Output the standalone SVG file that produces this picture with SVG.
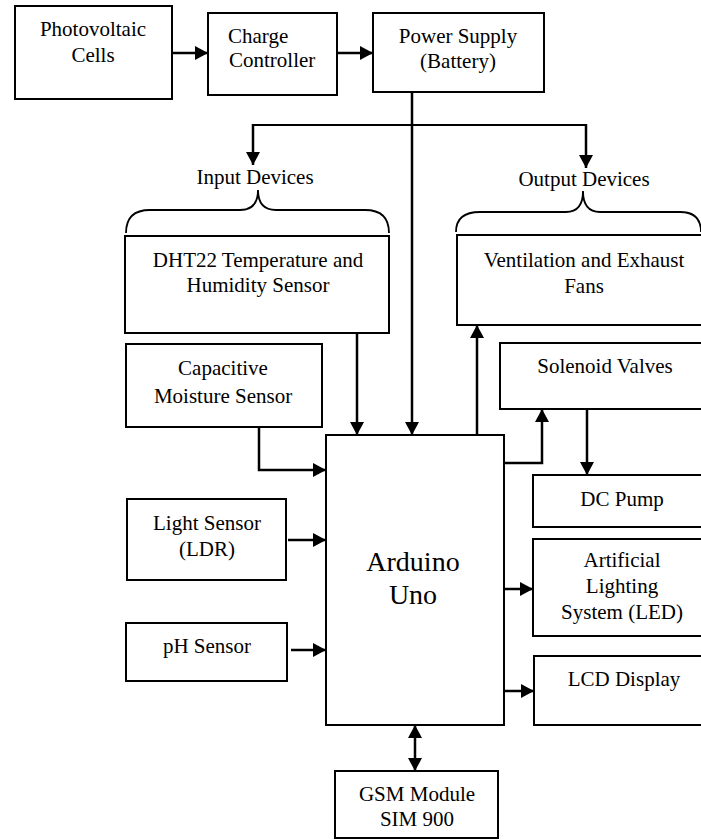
<svg xmlns="http://www.w3.org/2000/svg" width="701" height="840" viewBox="0 0 701 840" font-family="Liberation Serif, Times New Roman, serif">
<style>
.box{fill:#fff;stroke:#000;stroke-width:2}
text{font-family:'Liberation Serif','Times New Roman',Times,serif;font-size:21px;fill:#000;text-anchor:middle}
.big{font-size:28px}
.l{text-anchor:start}
.c{fill:none;stroke:#000;stroke-width:2.5}
.thin{fill:none;stroke:#000;stroke-width:1.8}
</style>
<defs>
<marker id="ah" markerWidth="14" markerHeight="14" refX="13" refY="7" orient="auto-start-reverse" markerUnits="userSpaceOnUse">
<path d="M0,0 L13,7 L0,14 z" fill="#000"/>
</marker>
</defs>
<rect width="701" height="840" fill="#fff"/>
<g id="connectors">
<line class="c" x1="172" y1="53" x2="208" y2="53" marker-end="url(#ah)"/>
<line class="c" x1="337" y1="53" x2="373" y2="53" marker-end="url(#ah)"/>
<line class="c" x1="412" y1="92" x2="412" y2="435" marker-end="url(#ah)"/>
<polyline class="thin" points="253,125 586,125"/>
<line class="c" x1="253" y1="124" x2="253" y2="165" marker-end="url(#ah)"/>
<line class="c" x1="586" y1="124" x2="586" y2="168" marker-end="url(#ah)"/>
<line class="c" x1="357" y1="333" x2="357" y2="435" marker-end="url(#ah)"/>
<polyline class="c" points="259,427 259,470 326,470" marker-end="url(#ah)"/>
<line class="c" x1="477" y1="435" x2="477" y2="325" marker-end="url(#ah)"/>
<polyline class="c" points="504,463 542,463 542,409" marker-end="url(#ah)"/>
<line class="c" x1="587" y1="409" x2="587" y2="475" marker-end="url(#ah)"/>
<line class="c" x1="288" y1="540" x2="326" y2="540" marker-end="url(#ah)"/>
<line class="c" x1="291" y1="650" x2="326" y2="650" marker-end="url(#ah)"/>
<line class="c" x1="504" y1="589" x2="533" y2="589" marker-end="url(#ah)"/>
<line class="c" x1="504" y1="691" x2="534" y2="691" marker-end="url(#ah)"/>
<line class="c" x1="415" y1="725" x2="415" y2="771" marker-start="url(#ah)" marker-end="url(#ah)"/>
<path class="thin" d="M126,233 Q126,210 150,210 L240,210 Q258,210 258,190 Q258,210 276,210 L365,210 Q389,210 389,233"/>
<path class="thin" d="M456,232 Q456,212 480,212 L566,212 Q583,212 583,191 Q583,212 600,212 L680,212 Q701,212 701,232"/>
</g>
<g id="photovoltaic"><rect class="box" x="15" y="6" width="157" height="93"/><text x="93" y="36">Photovoltaic</text><text x="93" y="62">Cells</text></g>
<g id="charge-controller"><rect class="box" x="208" y="13" width="129" height="82"/><text class="l" x="228" y="43">Charge</text><text class="l" x="229" y="67">Controller</text></g>
<g id="power-supply"><rect class="box" x="373" y="13" width="171" height="79"/><text x="458" y="43">Power Supply</text><text x="458" y="68">(Battery)</text></g>
<g id="input-devices"><text x="255" y="184">Input Devices</text></g>
<g id="output-devices"><text x="584" y="186">Output Devices</text></g>
<g id="dht22"><rect class="box" x="125" y="236" width="264" height="97"/><text x="258" y="267">DHT22 Temperature and</text><text x="258" y="292">Humidity Sensor</text></g>
<g id="capacitive"><rect class="box" x="126" y="344" width="196" height="83"/><text x="223" y="375">Capacitive</text><text x="223" y="403">Moisture Sensor</text></g>
<g id="light-sensor"><rect class="box" x="127" y="499" width="159" height="81"/><text x="207" y="530">Light Sensor</text><text x="207" y="556">(LDR)</text></g>
<g id="ph-sensor"><rect class="box" x="126" y="623" width="161" height="58"/><text x="207" y="653">pH Sensor</text></g>
<g id="arduino"><rect class="box" x="326" y="435" width="178" height="290"/><text class="big" x="413" y="571">Arduino</text><text class="big" x="413" y="604">Uno</text></g>
<g id="ventilation"><rect class="box" x="457" y="235" width="260" height="90"/><text x="584" y="267">Ventilation and Exhaust</text><text x="584" y="293">Fans</text></g>
<g id="solenoid"><rect class="box" x="500" y="343" width="220" height="66"/><text x="605" y="373">Solenoid Valves</text></g>
<g id="dc-pump"><rect class="box" x="533" y="475" width="190" height="52"/><text x="622" y="506">DC Pump</text></g>
<g id="lighting"><rect class="box" x="533" y="539" width="190" height="97"/><text x="622" y="567">Artificial</text><text x="622" y="593">Lighting</text><text x="622" y="619">System (LED)</text></g>
<g id="lcd"><rect class="box" x="534" y="656" width="190" height="69"/><text x="624" y="686">LCD Display</text></g>
<g id="gsm"><rect class="box" x="335" y="771" width="163" height="67"/><text x="417" y="801">GSM Module</text><text x="417" y="826">SIM 900</text></g>
</svg>
